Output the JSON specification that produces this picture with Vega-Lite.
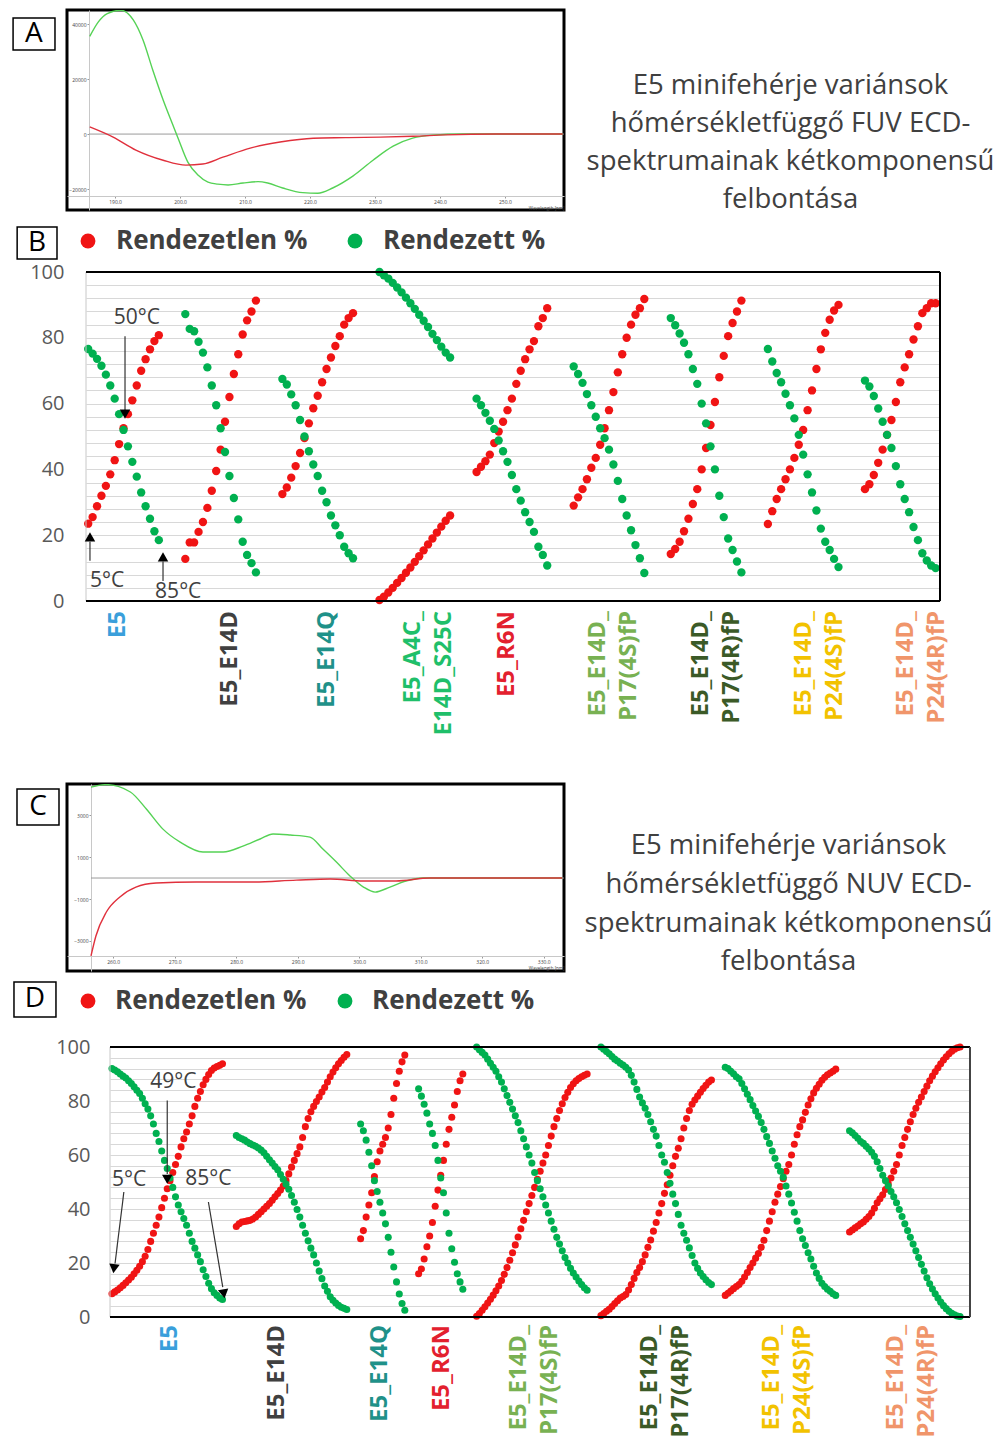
{
"$schema":"https://vega.github.io/schema/vega-lite/v6.json",
"background":"white",
"padding":{"left":9,"top":8,"right":0,"bottom":0},
"config":{"font":"Open Sans","view":{"stroke":null},"axis":{"labelFont":"Open Sans","titleFont":"Open Sans"},"legend":{"labelFont":"Open Sans"}},
"columns":1,
"align":"none",
"spacing":0,
"datasets":{
"sa":[{"nm":186.1,"v":35.5,"c":"g"},{"nm":187.4,"v":40.7,"c":"g"},{"nm":188.8,"v":43.8,"c":"g"},{"nm":190.9,"v":45,"c":"g"},{"nm":192.8,"v":41.5,"c":"g"},{"nm":194.3,"v":34.2,"c":"g"},{"nm":195.8,"v":23.3,"c":"g"},{"nm":197.4,"v":12.4,"c":"g"},{"nm":198.9,"v":3.3,"c":"g"},{"nm":199.7,"v":-1.5,"c":"g"},{"nm":201.2,"v":-10.2,"c":"g"},{"nm":202.8,"v":-15,"c":"g"},{"nm":204.3,"v":-17.5,"c":"g"},{"nm":205.8,"v":-18.2,"c":"g"},{"nm":207.4,"v":-18.5,"c":"g"},{"nm":209.7,"v":-17.8,"c":"g"},{"nm":212,"v":-17.3,"c":"g"},{"nm":213.5,"v":-17.8,"c":"g"},{"nm":215.8,"v":-19.6,"c":"g"},{"nm":218.9,"v":-21.3,"c":"g"},{"nm":221.2,"v":-21.5,"c":"g"},{"nm":223.5,"v":-19.6,"c":"g"},{"nm":226.6,"v":-15.3,"c":"g"},{"nm":229.7,"v":-9.5,"c":"g"},{"nm":232.8,"v":-4.4,"c":"g"},{"nm":235.8,"v":-1.5,"c":"g"},{"nm":238.9,"v":-0.4,"c":"g"},{"nm":243.5,"v":0,"c":"g"},{"nm":249.7,"v":0,"c":"g"},{"nm":258.9,"v":0,"c":"g"},
{"nm":186.1,"v":2.6,"c":"r"},{"nm":189.7,"v":-1.1,"c":"r"},{"nm":193.2,"v":-5.8,"c":"r"},{"nm":197.4,"v":-9.5,"c":"r"},{"nm":200.9,"v":-11.3,"c":"r"},{"nm":203.5,"v":-10.9,"c":"r"},{"nm":206.6,"v":-8.4,"c":"r"},{"nm":210.8,"v":-5.1,"c":"r"},{"nm":215.4,"v":-2.9,"c":"r"},{"nm":220.5,"v":-1.5,"c":"r"},{"nm":225.5,"v":-1.3,"c":"r"},{"nm":230.8,"v":-1.1,"c":"r"},{"nm":235.8,"v":-0.8,"c":"r"},{"nm":240.9,"v":-0.3,"c":"r"},{"nm":248.6,"v":0,"c":"r"},{"nm":258.9,"v":0,"c":"r"}],
"sc":[{"nm":256.4,"v":4.33,"c":"g"},{"nm":258.9,"v":4.45,"c":"g"},{"nm":262.8,"v":4.1,"c":"g"},{"nm":265.4,"v":3.29,"c":"g"},{"nm":268.1,"v":2.33,"c":"g"},{"nm":270.9,"v":1.71,"c":"g"},{"nm":274.6,"v":1.24,"c":"g"},{"nm":277.9,"v":1.24,"c":"g"},{"nm":281.1,"v":1.52,"c":"g"},{"nm":283.9,"v":1.86,"c":"g"},{"nm":286,"v":2.1,"c":"g"},{"nm":288.8,"v":2.05,"c":"g"},{"nm":292,"v":1.95,"c":"g"},{"nm":294.1,"v":1.38,"c":"g"},{"nm":296.3,"v":0.76,"c":"g"},{"nm":298.5,"v":0.1,"c":"g"},{"nm":300.7,"v":-0.43,"c":"g"},{"nm":302.6,"v":-0.67,"c":"g"},{"nm":305,"v":-0.43,"c":"g"},{"nm":307.6,"v":-0.14,"c":"g"},{"nm":310.4,"v":0,"c":"g"},{"nm":316.9,"v":0,"c":"g"},{"nm":333,"v":0,"c":"g"},
{"nm":256.4,"v":-3.71,"c":"r"},{"nm":257.2,"v":-2.76,"c":"r"},{"nm":258.9,"v":-1.62,"c":"r"},{"nm":261.1,"v":-0.9,"c":"r"},{"nm":263.7,"v":-0.43,"c":"r"},{"nm":267,"v":-0.24,"c":"r"},{"nm":273.5,"v":-0.19,"c":"r"},{"nm":282.3,"v":-0.19,"c":"r"},{"nm":289.8,"v":-0.1,"c":"r"},{"nm":295.3,"v":-0.05,"c":"r"},{"nm":300.7,"v":-0.14,"c":"r"},{"nm":306,"v":-0.14,"c":"r"},{"nm":311.5,"v":0,"c":"r"},{"nm":322.3,"v":0,"c":"r"},{"nm":333,"v":0,"c":"r"}],
"ta":[{"n":1,"t":"E5 minifehérje variánsok"},{"n":2,"t":"hőmérsékletfüggő FUV ECD-"},{"n":3,"t":"spektrumainak kétkomponensű"},{"n":4,"t":"felbontása"}],
"tc":[{"n":1,"t":"E5 minifehérje variánsok"},{"n":2,"t":"hőmérsékletfüggő NUV ECD-"},{"n":3,"t":"spektrumainak kétkomponensű"},{"n":4,"t":"felbontása"}],
"bLab":[{"x":6.75,"t":"E5","k":"E5"},{"x":32.1,"t":"E5_E14D","k":"E5_E14D"},{"x":54.1,"t":"E5_E14Q","k":"E5_E14Q"},{"x":73.7,"t":"E5_A4C_\u00a0\u00a0\u00a0\u00a0\u00a0|E14D_S25C","k":"E5_A4C_E14D_S25C"},{"x":94.9,"t":"E5_R6N","k":"E5_R6N"},{"x":115.4,"t":"E5_E14D_|P17(4S)fP","k":"P17(4S)"},{"x":138.8,"t":"E5_E14D_|P17(4R)fP","k":"P17(4R)"},{"x":162.2,"t":"E5_E14D_|P24(4S)fP","k":"P24(4S)"},{"x":185.3,"t":"E5_E14D_|P24(4R)fP","k":"P24(4R)"}],
"dLab":[{"x":21,"t":"E5","k":"E5"},{"x":59.7,"t":"E5_E14D","k":"E5_E14D"},{"x":97,"t":"E5_E14Q","k":"E5_E14Q"},{"x":119.5,"t":"E5_R6N","k":"E5_R6N"},{"x":147.4,"t":"E5_E14D_|P17(4S)fP","k":"P17(4S)"},{"x":194.8,"t":"E5_E14D_|P17(4R)fP","k":"P17(4R)"},{"x":239,"t":"E5_E14D_|P24(4S)fP","k":"P24(4S)"},{"x":283.9,"t":"E5_E14D_|P24(4R)fP","k":"P24(4R)"}],
"bArrows":[{"x":8.34,"y":80.5,"x2":8.34,"y2":58},{"x":0.4,"y":12.2,"x2":0.4,"y2":18},{"x":16.95,"y":6.1,"x2":16.95,"y2":12}],
"bHeads":[{"x":8.34,"y":56.8,"a":0},{"x":0.4,"y":19.5,"a":180},{"x":16.95,"y":13.4,"a":180}],
"bText":[{"x":11.04,"y":86,"t":"50°C"},{"x":4.26,"y":6.1,"t":"5°C"},{"x":20.4,"y":2.7,"t":"85°C"}],
"dArrows":[{"x":20,"y":80.2,"x2":20,"y2":53},{"x":4.3,"y":46.3,"x2":1.1,"y2":19.8},{"x":34.9,"y":42.6,"x2":40.1,"y2":11.1}],
"dHeads":[{"x":20,"y":51,"a":0},{"x":0.7,"y":17.9,"a":7.2},{"x":40.5,"y":8.6,"a":350.4}],
"dText":[{"x":22.2,"y":87,"t":"49°C"},{"x":6.2,"y":50.9,"t":"5°C"},{"x":34.9,"y":51.2,"t":"85°C"}],
"b":[
{"x":0,"s":"r","v":23.5},{"x":1,"s":"r","v":25.5},{"x":2,"s":"r","v":28.8},{"x":3,"s":"r","v":32},{"x":4,"s":"r","v":35},{"x":5,"s":"r","v":38.5},{"x":6,"s":"r","v":42.8},{"x":7,"s":"r","v":47.7},{"x":8,"s":"r","v":52.5},{"x":9,"s":"r","v":56.8},{"x":10,"s":"r","v":61},{"x":11,"s":"r","v":65.5},{"x":12,"s":"r","v":70},{"x":13,"s":"r","v":73.5},{"x":14,"s":"r","v":76.5},{"x":15,"s":"r","v":79},{"x":16,"s":"r","v":80.8},
{"x":0,"s":"g","v":76.6},{"x":1,"s":"g","v":75.2},{"x":2,"s":"g","v":73.6},{"x":3,"s":"g","v":71.5},{"x":4,"s":"g","v":68.8},{"x":5,"s":"g","v":65.5},{"x":6,"s":"g","v":61.5},{"x":7,"s":"g","v":56.8},{"x":8,"s":"g","v":52},{"x":9,"s":"g","v":47},{"x":10,"s":"g","v":42.3},{"x":11,"s":"g","v":37.8},{"x":12,"s":"g","v":33},{"x":13,"s":"g","v":28.8},{"x":14,"s":"g","v":25},{"x":15,"s":"g","v":21.2},{"x":16,"s":"g","v":18.5},
{"x":22,"s":"r","v":12.8},{"x":23,"s":"r","v":17.8},{"x":24,"s":"r","v":17.8},{"x":25,"s":"r","v":21},{"x":26,"s":"r","v":24},{"x":27,"s":"r","v":28.3},{"x":28,"s":"r","v":33.5},{"x":29,"s":"r","v":39.5},{"x":30,"s":"r","v":46},{"x":31,"s":"r","v":54.5},{"x":32,"s":"r","v":62},{"x":33,"s":"r","v":69},{"x":34,"s":"r","v":75},{"x":35,"s":"r","v":81},{"x":36,"s":"r","v":85.3},{"x":37,"s":"r","v":88},{"x":38,"s":"r","v":91.3},
{"x":22,"s":"g","v":87.2},{"x":23,"s":"g","v":82.7},{"x":24,"s":"g","v":82},{"x":25,"s":"g","v":78.8},{"x":26,"s":"g","v":75.5},{"x":27,"s":"g","v":71},{"x":28,"s":"g","v":65.5},{"x":29,"s":"g","v":59.5},{"x":30,"s":"g","v":52.5},{"x":31,"s":"g","v":45.3},{"x":32,"s":"g","v":38},{"x":33,"s":"g","v":31.3},{"x":34,"s":"g","v":24.8},{"x":35,"s":"g","v":18},{"x":36,"s":"g","v":14},{"x":37,"s":"g","v":11.5},{"x":38,"s":"g","v":8.7},
{"x":44,"s":"r","v":32.5},{"x":45,"s":"r","v":34.5},{"x":46,"s":"r","v":37.5},{"x":47,"s":"r","v":41},{"x":48,"s":"r","v":45},{"x":49,"s":"r","v":49.5},{"x":50,"s":"r","v":54},{"x":51,"s":"r","v":58.6},{"x":52,"s":"r","v":62.4},{"x":53,"s":"r","v":66.5},{"x":54,"s":"r","v":70.5},{"x":55,"s":"r","v":74},{"x":56,"s":"r","v":77.5},{"x":57,"s":"r","v":80.5},{"x":58,"s":"r","v":84},{"x":59,"s":"r","v":86},{"x":60,"s":"r","v":87.5},
{"x":44,"s":"g","v":67.5},{"x":45,"s":"g","v":65.8},{"x":46,"s":"g","v":62.8},{"x":47,"s":"g","v":59.5},{"x":48,"s":"g","v":55},{"x":49,"s":"g","v":50},{"x":50,"s":"g","v":45.5},{"x":51,"s":"g","v":41.5},{"x":52,"s":"g","v":38},{"x":53,"s":"g","v":33.5},{"x":54,"s":"g","v":30},{"x":55,"s":"g","v":26},{"x":56,"s":"g","v":23},{"x":57,"s":"g","v":20},{"x":58,"s":"g","v":16.5},{"x":59,"s":"g","v":14.5},{"x":60,"s":"g","v":13},
{"x":66,"s":"r","v":0.3},{"x":67,"s":"r","v":1.3},{"x":68,"s":"r","v":2.6},{"x":69,"s":"r","v":4},{"x":70,"s":"r","v":5.5},{"x":71,"s":"r","v":7},{"x":72,"s":"r","v":8.6},{"x":73,"s":"r","v":10.2},{"x":74,"s":"r","v":11.9},{"x":75,"s":"r","v":13.6},{"x":76,"s":"r","v":15.4},{"x":77,"s":"r","v":17.2},{"x":78,"s":"r","v":19},{"x":79,"s":"r","v":20.8},{"x":80,"s":"r","v":22.6},{"x":81,"s":"r","v":24.4},{"x":82,"s":"r","v":26},
{"x":66,"s":"g","v":100},{"x":67,"s":"g","v":99},{"x":68,"s":"g","v":98},{"x":69,"s":"g","v":96.7},{"x":70,"s":"g","v":95.3},{"x":71,"s":"g","v":93.8},{"x":72,"s":"g","v":92.2},{"x":73,"s":"g","v":90.5},{"x":74,"s":"g","v":88.8},{"x":75,"s":"g","v":87},{"x":76,"s":"g","v":85.2},{"x":77,"s":"g","v":83.3},{"x":78,"s":"g","v":81.2},{"x":79,"s":"g","v":79.3},{"x":80,"s":"g","v":77.3},{"x":81,"s":"g","v":75.5},{"x":82,"s":"g","v":74},
{"x":88,"s":"r","v":39.2},{"x":89,"s":"r","v":40.8},{"x":90,"s":"r","v":42.5},{"x":91,"s":"r","v":44.5},{"x":92,"s":"r","v":48},{"x":93,"s":"r","v":51.5},{"x":94,"s":"r","v":54.5},{"x":95,"s":"r","v":58},{"x":96,"s":"r","v":61.5},{"x":97,"s":"r","v":66},{"x":98,"s":"r","v":70},{"x":99,"s":"r","v":73.5},{"x":100,"s":"r","v":76.5},{"x":101,"s":"r","v":79},{"x":102,"s":"r","v":83.5},{"x":103,"s":"r","v":86},{"x":104,"s":"r","v":89},
{"x":88,"s":"g","v":61.5},{"x":89,"s":"g","v":59.5},{"x":90,"s":"g","v":57.2},{"x":91,"s":"g","v":54.8},{"x":92,"s":"g","v":52.3},{"x":93,"s":"g","v":48.8},{"x":94,"s":"g","v":45.5},{"x":95,"s":"g","v":42.3},{"x":96,"s":"g","v":38.3},{"x":97,"s":"g","v":34},{"x":98,"s":"g","v":30.5},{"x":99,"s":"g","v":27},{"x":100,"s":"g","v":24},{"x":101,"s":"g","v":21},{"x":102,"s":"g","v":16.5},{"x":103,"s":"g","v":14},{"x":104,"s":"g","v":10.8},
{"x":110,"s":"r","v":29},{"x":111,"s":"r","v":31.5},{"x":112,"s":"r","v":34},{"x":113,"s":"r","v":37},{"x":114,"s":"r","v":40.5},{"x":115,"s":"r","v":43.5},{"x":116,"s":"r","v":47.5},{"x":117,"s":"r","v":52.5},{"x":118,"s":"r","v":58},{"x":119,"s":"r","v":63.5},{"x":120,"s":"r","v":69.5},{"x":121,"s":"r","v":75},{"x":122,"s":"r","v":80},{"x":123,"s":"r","v":84},{"x":124,"s":"r","v":87},{"x":125,"s":"r","v":89},{"x":126,"s":"r","v":91.8},
{"x":110,"s":"g","v":71.3},{"x":111,"s":"g","v":69},{"x":112,"s":"g","v":66.3},{"x":113,"s":"g","v":62.9},{"x":114,"s":"g","v":59.5},{"x":115,"s":"g","v":56},{"x":116,"s":"g","v":52.5},{"x":117,"s":"g","v":49.5},{"x":118,"s":"g","v":46},{"x":119,"s":"g","v":41.5},{"x":120,"s":"g","v":36.5},{"x":121,"s":"g","v":31},{"x":122,"s":"g","v":26},{"x":123,"s":"g","v":21.5},{"x":124,"s":"g","v":17},{"x":125,"s":"g","v":13},{"x":126,"s":"g","v":8.5},
{"x":132,"s":"r","v":14.3},{"x":133,"s":"r","v":15.8},{"x":134,"s":"r","v":18},{"x":135,"s":"r","v":21.2},{"x":136,"s":"r","v":25},{"x":137,"s":"r","v":29.5},{"x":138,"s":"r","v":34},{"x":139,"s":"r","v":40},{"x":140,"s":"r","v":46.5},{"x":141,"s":"r","v":53.5},{"x":142,"s":"r","v":60.5},{"x":143,"s":"r","v":68},{"x":144,"s":"r","v":74.5},{"x":145,"s":"r","v":80.5},{"x":146,"s":"r","v":84.5},{"x":147,"s":"r","v":88},{"x":148,"s":"r","v":91.3},
{"x":132,"s":"g","v":86},{"x":133,"s":"g","v":83.8},{"x":134,"s":"g","v":81.3},{"x":135,"s":"g","v":78.5},{"x":136,"s":"g","v":75},{"x":137,"s":"g","v":70.5},{"x":138,"s":"g","v":66},{"x":139,"s":"g","v":60},{"x":140,"s":"g","v":54},{"x":141,"s":"g","v":47},{"x":142,"s":"g","v":40},{"x":143,"s":"g","v":32},{"x":144,"s":"g","v":25.5},{"x":145,"s":"g","v":19},{"x":146,"s":"g","v":15.5},{"x":147,"s":"g","v":12},{"x":148,"s":"g","v":8.7},
{"x":154,"s":"r","v":23.4},{"x":155,"s":"r","v":27.3},{"x":156,"s":"r","v":31},{"x":157,"s":"r","v":34},{"x":158,"s":"r","v":37},{"x":159,"s":"r","v":40},{"x":160,"s":"r","v":43.5},{"x":161,"s":"r","v":47.5},{"x":162,"s":"r","v":52},{"x":163,"s":"r","v":58},{"x":164,"s":"r","v":64},{"x":165,"s":"r","v":70.5},{"x":166,"s":"r","v":76.5},{"x":167,"s":"r","v":81.5},{"x":168,"s":"r","v":85.5},{"x":169,"s":"r","v":88.3},{"x":170,"s":"r","v":90},
{"x":154,"s":"g","v":76.6},{"x":155,"s":"g","v":72.8},{"x":156,"s":"g","v":69.3},{"x":157,"s":"g","v":66.5},{"x":158,"s":"g","v":63},{"x":159,"s":"g","v":59.5},{"x":160,"s":"g","v":55.5},{"x":161,"s":"g","v":50.5},{"x":162,"s":"g","v":44.5},{"x":163,"s":"g","v":38.5},{"x":164,"s":"g","v":33},{"x":165,"s":"g","v":27.5},{"x":166,"s":"g","v":22},{"x":167,"s":"g","v":18},{"x":168,"s":"g","v":15.5},{"x":169,"s":"g","v":12.8},{"x":170,"s":"g","v":10.3},
{"x":176,"s":"r","v":34},{"x":177,"s":"r","v":35.5},{"x":178,"s":"r","v":38.3},{"x":179,"s":"r","v":42},{"x":180,"s":"r","v":46},{"x":181,"s":"r","v":50.5},{"x":182,"s":"r","v":55},{"x":183,"s":"r","v":60.5},{"x":184,"s":"r","v":66.5},{"x":185,"s":"r","v":71},{"x":186,"s":"r","v":75},{"x":187,"s":"r","v":79.5},{"x":188,"s":"r","v":83.5},{"x":189,"s":"r","v":87.5},{"x":190,"s":"r","v":89},{"x":191,"s":"r","v":90.5},{"x":192,"s":"r","v":90.5},
{"x":176,"s":"g","v":67},{"x":177,"s":"g","v":65.2},{"x":178,"s":"g","v":62.3},{"x":179,"s":"g","v":58.5},{"x":180,"s":"g","v":54.5},{"x":181,"s":"g","v":50.5},{"x":182,"s":"g","v":46.5},{"x":183,"s":"g","v":41},{"x":184,"s":"g","v":35.5},{"x":185,"s":"g","v":31},{"x":186,"s":"g","v":27},{"x":187,"s":"g","v":22.5},{"x":188,"s":"g","v":18.5},{"x":189,"s":"g","v":14.5},{"x":190,"s":"g","v":12.3},{"x":191,"s":"g","v":10.8},{"x":192,"s":"g","v":10}
],
"d":[
{"x":0,"s":"r","v":8.6},{"x":1,"s":"r","v":9.3},{"x":2,"s":"r","v":10},{"x":3,"s":"r","v":10.8},{"x":4,"s":"r","v":11.7},{"x":5,"s":"r","v":12.7},{"x":6,"s":"r","v":13.7},{"x":7,"s":"r","v":14.7},{"x":8,"s":"r","v":16},{"x":9,"s":"r","v":17.3},{"x":10,"s":"r","v":18.8},{"x":11,"s":"r","v":20.5},{"x":12,"s":"r","v":22.5},{"x":13,"s":"r","v":25},{"x":14,"s":"r","v":28},{"x":15,"s":"r","v":31},{"x":16,"s":"r","v":34},{"x":17,"s":"r","v":37},{"x":18,"s":"r","v":40.5},{"x":19,"s":"r","v":44},{"x":20,"s":"r","v":47.5},{"x":21,"s":"r","v":50.5},{"x":22,"s":"r","v":53.5},{"x":23,"s":"r","v":56.5},{"x":24,"s":"r","v":59.5},{"x":25,"s":"r","v":63},{"x":26,"s":"r","v":66},{"x":27,"s":"r","v":68.5},{"x":28,"s":"r","v":71.5},{"x":29,"s":"r","v":74.5},{"x":30,"s":"r","v":78},{"x":31,"s":"r","v":81},{"x":32,"s":"r","v":83.5},{"x":33,"s":"r","v":86},{"x":34,"s":"r","v":88},{"x":35,"s":"r","v":89.8},{"x":36,"s":"r","v":91.3},{"x":37,"s":"r","v":92.2},{"x":38,"s":"r","v":92.8},{"x":39,"s":"r","v":93.2},{"x":40,"s":"r","v":93.8},
{"x":0,"s":"g","v":92},{"x":1,"s":"g","v":91.5},{"x":2,"s":"g","v":90.8},{"x":3,"s":"g","v":90},{"x":4,"s":"g","v":89.2},{"x":5,"s":"g","v":88.5},{"x":6,"s":"g","v":87.5},{"x":7,"s":"g","v":86.5},{"x":8,"s":"g","v":85.3},{"x":9,"s":"g","v":84},{"x":10,"s":"g","v":82.8},{"x":11,"s":"g","v":81},{"x":12,"s":"g","v":79},{"x":13,"s":"g","v":77},{"x":14,"s":"g","v":74.5},{"x":15,"s":"g","v":71.5},{"x":16,"s":"g","v":68},{"x":17,"s":"g","v":65},{"x":18,"s":"g","v":61.5},{"x":19,"s":"g","v":58},{"x":20,"s":"g","v":55},{"x":21,"s":"g","v":51.5},{"x":22,"s":"g","v":48},{"x":23,"s":"g","v":44.5},{"x":24,"s":"g","v":41.5},{"x":25,"s":"g","v":39},{"x":26,"s":"g","v":36.5},{"x":27,"s":"g","v":34},{"x":28,"s":"g","v":31},{"x":29,"s":"g","v":28},{"x":30,"s":"g","v":25.5},{"x":31,"s":"g","v":23},{"x":32,"s":"g","v":20.5},{"x":33,"s":"g","v":17.5},{"x":34,"s":"g","v":15},{"x":35,"s":"g","v":12.5},{"x":36,"s":"g","v":10.5},{"x":37,"s":"g","v":9},{"x":38,"s":"g","v":8},{"x":39,"s":"g","v":7},{"x":40,"s":"g","v":6.5},
{"x":45,"s":"r","v":33.5},{"x":46,"s":"r","v":34.5},{"x":47,"s":"r","v":35.2},{"x":48,"s":"r","v":35.4},{"x":49,"s":"r","v":35.6},{"x":50,"s":"r","v":35.8},{"x":51,"s":"r","v":36.3},{"x":52,"s":"r","v":37},{"x":53,"s":"r","v":38},{"x":54,"s":"r","v":39},{"x":55,"s":"r","v":40},{"x":56,"s":"r","v":41},{"x":57,"s":"r","v":42},{"x":58,"s":"r","v":43.2},{"x":59,"s":"r","v":44.5},{"x":60,"s":"r","v":45.7},{"x":61,"s":"r","v":47},{"x":62,"s":"r","v":48.5},{"x":63,"s":"r","v":50.5},{"x":64,"s":"r","v":53},{"x":65,"s":"r","v":55.5},{"x":66,"s":"r","v":58},{"x":67,"s":"r","v":60.5},{"x":68,"s":"r","v":63},{"x":69,"s":"r","v":66.5},{"x":70,"s":"r","v":70.5},{"x":71,"s":"r","v":73.5},{"x":72,"s":"r","v":76},{"x":73,"s":"r","v":78},{"x":74,"s":"r","v":79.8},{"x":75,"s":"r","v":81.5},{"x":76,"s":"r","v":83.3},{"x":77,"s":"r","v":85},{"x":78,"s":"r","v":87},{"x":79,"s":"r","v":89},{"x":80,"s":"r","v":90.7},{"x":81,"s":"r","v":92.3},{"x":82,"s":"r","v":93.8},{"x":83,"s":"r","v":95},{"x":84,"s":"r","v":96.2},{"x":85,"s":"r","v":97.2},
{"x":45,"s":"g","v":67.2},{"x":46,"s":"g","v":66.5},{"x":47,"s":"g","v":66},{"x":48,"s":"g","v":65.5},{"x":49,"s":"g","v":64.8},{"x":50,"s":"g","v":64.2},{"x":51,"s":"g","v":63.7},{"x":52,"s":"g","v":63.2},{"x":53,"s":"g","v":62.6},{"x":54,"s":"g","v":61.8},{"x":55,"s":"g","v":60.8},{"x":56,"s":"g","v":59.5},{"x":57,"s":"g","v":58.2},{"x":58,"s":"g","v":57},{"x":59,"s":"g","v":55.7},{"x":60,"s":"g","v":54.5},{"x":61,"s":"g","v":52.8},{"x":62,"s":"g","v":51},{"x":63,"s":"g","v":49.2},{"x":64,"s":"g","v":47.3},{"x":65,"s":"g","v":45},{"x":66,"s":"g","v":42.5},{"x":67,"s":"g","v":39.8},{"x":68,"s":"g","v":37},{"x":69,"s":"g","v":34},{"x":70,"s":"g","v":31},{"x":71,"s":"g","v":28.2},{"x":72,"s":"g","v":25.5},{"x":73,"s":"g","v":23},{"x":74,"s":"g","v":20},{"x":75,"s":"g","v":17},{"x":76,"s":"g","v":14.2},{"x":77,"s":"g","v":11.5},{"x":78,"s":"g","v":9.5},{"x":79,"s":"g","v":7.5},{"x":80,"s":"g","v":6.2},{"x":81,"s":"g","v":5.2},{"x":82,"s":"g","v":4.3},{"x":83,"s":"g","v":3.6},{"x":84,"s":"g","v":3.2},{"x":85,"s":"g","v":2.8},
{"x":90,"s":"r","v":29},{"x":91,"s":"r","v":32},{"x":92,"s":"r","v":37},{"x":93,"s":"r","v":41.5},{"x":94,"s":"r","v":46},{"x":95,"s":"r","v":52},{"x":96,"s":"r","v":57.5},{"x":97,"s":"r","v":61.5},{"x":98,"s":"r","v":64},{"x":99,"s":"r","v":66.5},{"x":100,"s":"r","v":70},{"x":101,"s":"r","v":75},{"x":102,"s":"r","v":81},{"x":103,"s":"r","v":86.5},{"x":104,"s":"r","v":91},{"x":105,"s":"r","v":94.5},{"x":106,"s":"r","v":97},
{"x":90,"s":"g","v":71.5},{"x":91,"s":"g","v":69},{"x":92,"s":"g","v":65.5},{"x":93,"s":"g","v":61},{"x":94,"s":"g","v":56},{"x":95,"s":"g","v":50.5},{"x":96,"s":"g","v":46.5},{"x":97,"s":"g","v":42.5},{"x":98,"s":"g","v":38.5},{"x":99,"s":"g","v":34.5},{"x":100,"s":"g","v":29.5},{"x":101,"s":"g","v":24},{"x":102,"s":"g","v":18.5},{"x":103,"s":"g","v":13},{"x":104,"s":"g","v":8.5},{"x":105,"s":"g","v":5},{"x":106,"s":"g","v":2.5},
{"x":111,"s":"r","v":16},{"x":112,"s":"r","v":17.8},{"x":113,"s":"r","v":21.5},{"x":114,"s":"r","v":26},{"x":115,"s":"r","v":30},{"x":116,"s":"r","v":35},{"x":117,"s":"r","v":41},{"x":118,"s":"r","v":47},{"x":119,"s":"r","v":52.5},{"x":120,"s":"r","v":58},{"x":121,"s":"r","v":64},{"x":122,"s":"r","v":69.5},{"x":123,"s":"r","v":74},{"x":124,"s":"r","v":78.5},{"x":125,"s":"r","v":83.5},{"x":126,"s":"r","v":87.5},{"x":127,"s":"r","v":90},
{"x":111,"s":"g","v":84.5},{"x":112,"s":"g","v":81.8},{"x":113,"s":"g","v":78.8},{"x":114,"s":"g","v":75.5},{"x":115,"s":"g","v":71.5},{"x":116,"s":"g","v":68},{"x":117,"s":"g","v":63.5},{"x":118,"s":"g","v":58},{"x":119,"s":"g","v":51.5},{"x":120,"s":"g","v":46},{"x":121,"s":"g","v":38.5},{"x":122,"s":"g","v":31},{"x":123,"s":"g","v":25.3},{"x":124,"s":"g","v":20.3},{"x":125,"s":"g","v":16},{"x":126,"s":"g","v":13},{"x":127,"s":"g","v":10.3},
{"x":132,"s":"r","v":0.3},{"x":133,"s":"r","v":1.3},{"x":134,"s":"r","v":2.5},{"x":135,"s":"r","v":3.8},{"x":136,"s":"r","v":5.2},{"x":137,"s":"r","v":6.6},{"x":138,"s":"r","v":8.1},{"x":139,"s":"r","v":9.7},{"x":140,"s":"r","v":11.5},{"x":141,"s":"r","v":13.5},{"x":142,"s":"r","v":15.8},{"x":143,"s":"r","v":18.3},{"x":144,"s":"r","v":21},{"x":145,"s":"r","v":23.8},{"x":146,"s":"r","v":26.7},{"x":147,"s":"r","v":29.6},{"x":148,"s":"r","v":32.7},{"x":149,"s":"r","v":35.8},{"x":150,"s":"r","v":39},{"x":151,"s":"r","v":42},{"x":152,"s":"r","v":45},{"x":153,"s":"r","v":48},{"x":154,"s":"r","v":51},{"x":155,"s":"r","v":54},{"x":156,"s":"r","v":57},{"x":157,"s":"r","v":60},{"x":158,"s":"r","v":63.5},{"x":159,"s":"r","v":67},{"x":160,"s":"r","v":70.5},{"x":161,"s":"r","v":73.5},{"x":162,"s":"r","v":76.5},{"x":163,"s":"r","v":79},{"x":164,"s":"r","v":81.3},{"x":165,"s":"r","v":83.2},{"x":166,"s":"r","v":85},{"x":167,"s":"r","v":86.4},{"x":168,"s":"r","v":87.5},{"x":169,"s":"r","v":88.3},{"x":170,"s":"r","v":89},{"x":171,"s":"r","v":89.5},{"x":172,"s":"r","v":90},
{"x":132,"s":"g","v":100},{"x":133,"s":"g","v":99},{"x":134,"s":"g","v":98},{"x":135,"s":"g","v":97},{"x":136,"s":"g","v":95.5},{"x":137,"s":"g","v":94},{"x":138,"s":"g","v":92.5},{"x":139,"s":"g","v":91},{"x":140,"s":"g","v":89},{"x":141,"s":"g","v":87},{"x":142,"s":"g","v":84.5},{"x":143,"s":"g","v":82},{"x":144,"s":"g","v":79.5},{"x":145,"s":"g","v":77},{"x":146,"s":"g","v":74.5},{"x":147,"s":"g","v":72},{"x":148,"s":"g","v":69},{"x":149,"s":"g","v":66},{"x":150,"s":"g","v":63},{"x":151,"s":"g","v":60},{"x":152,"s":"g","v":57},{"x":153,"s":"g","v":53.5},{"x":154,"s":"g","v":50.5},{"x":155,"s":"g","v":47.5},{"x":156,"s":"g","v":44.5},{"x":157,"s":"g","v":41.5},{"x":158,"s":"g","v":38.5},{"x":159,"s":"g","v":35.5},{"x":160,"s":"g","v":32.5},{"x":161,"s":"g","v":29.5},{"x":162,"s":"g","v":27},{"x":163,"s":"g","v":24.5},{"x":164,"s":"g","v":22},{"x":165,"s":"g","v":20},{"x":166,"s":"g","v":18},{"x":167,"s":"g","v":16.3},{"x":168,"s":"g","v":14.8},{"x":169,"s":"g","v":13.3},{"x":170,"s":"g","v":12},{"x":171,"s":"g","v":10.8},{"x":172,"s":"g","v":9.9},
{"x":177,"s":"r","v":0.5},{"x":178,"s":"r","v":1.3},{"x":179,"s":"r","v":2.1},{"x":180,"s":"r","v":2.9},{"x":181,"s":"r","v":3.9},{"x":182,"s":"r","v":5},{"x":183,"s":"r","v":6},{"x":184,"s":"r","v":7},{"x":185,"s":"r","v":7.6},{"x":186,"s":"r","v":8.3},{"x":187,"s":"r","v":10},{"x":188,"s":"r","v":12},{"x":189,"s":"r","v":14.3},{"x":190,"s":"r","v":16.5},{"x":191,"s":"r","v":18.3},{"x":192,"s":"r","v":20.5},{"x":193,"s":"r","v":23},{"x":194,"s":"r","v":25.8},{"x":195,"s":"r","v":28.5},{"x":196,"s":"r","v":31.8},{"x":197,"s":"r","v":35},{"x":198,"s":"r","v":38.5},{"x":199,"s":"r","v":42},{"x":200,"s":"r","v":45.8},{"x":201,"s":"r","v":49},{"x":202,"s":"r","v":52.5},{"x":203,"s":"r","v":56},{"x":204,"s":"r","v":59.5},{"x":205,"s":"r","v":62.5},{"x":206,"s":"r","v":66},{"x":207,"s":"r","v":70},{"x":208,"s":"r","v":73.5},{"x":209,"s":"r","v":76.5},{"x":210,"s":"r","v":78.8},{"x":211,"s":"r","v":80.4},{"x":212,"s":"r","v":81.8},{"x":213,"s":"r","v":83.2},{"x":214,"s":"r","v":84.6},{"x":215,"s":"r","v":85.8},{"x":216,"s":"r","v":87},{"x":217,"s":"r","v":87.8},
{"x":177,"s":"g","v":100},{"x":178,"s":"g","v":99.2},{"x":179,"s":"g","v":98.3},{"x":180,"s":"g","v":97.5},{"x":181,"s":"g","v":96.5},{"x":182,"s":"g","v":95.5},{"x":183,"s":"g","v":94.8},{"x":184,"s":"g","v":94},{"x":185,"s":"g","v":93.3},{"x":186,"s":"g","v":92.5},{"x":187,"s":"g","v":91.5},{"x":188,"s":"g","v":89.5},{"x":189,"s":"g","v":87},{"x":190,"s":"g","v":84.3},{"x":191,"s":"g","v":81.5},{"x":192,"s":"g","v":79.3},{"x":193,"s":"g","v":77.3},{"x":194,"s":"g","v":75},{"x":195,"s":"g","v":72.3},{"x":196,"s":"g","v":69.5},{"x":197,"s":"g","v":67},{"x":198,"s":"g","v":63.5},{"x":199,"s":"g","v":60},{"x":200,"s":"g","v":57.3},{"x":201,"s":"g","v":53.5},{"x":202,"s":"g","v":49.5},{"x":203,"s":"g","v":45.5},{"x":204,"s":"g","v":42},{"x":205,"s":"g","v":38},{"x":206,"s":"g","v":34},{"x":207,"s":"g","v":31},{"x":208,"s":"g","v":28.4},{"x":209,"s":"g","v":25.6},{"x":210,"s":"g","v":22.8},{"x":211,"s":"g","v":20},{"x":212,"s":"g","v":18},{"x":213,"s":"g","v":16.3},{"x":214,"s":"g","v":15},{"x":215,"s":"g","v":13.8},{"x":216,"s":"g","v":12.8},{"x":217,"s":"g","v":12},
{"x":222,"s":"r","v":8},{"x":223,"s":"r","v":8.8},{"x":224,"s":"r","v":9.6},{"x":225,"s":"r","v":10.5},{"x":226,"s":"r","v":11.3},{"x":227,"s":"r","v":12},{"x":228,"s":"r","v":13.2},{"x":229,"s":"r","v":14.8},{"x":230,"s":"r","v":16.5},{"x":231,"s":"r","v":18.3},{"x":232,"s":"r","v":20},{"x":233,"s":"r","v":21.8},{"x":234,"s":"r","v":23.5},{"x":235,"s":"r","v":25.8},{"x":236,"s":"r","v":28.4},{"x":237,"s":"r","v":32},{"x":238,"s":"r","v":35.5},{"x":239,"s":"r","v":39},{"x":240,"s":"r","v":42.5},{"x":241,"s":"r","v":45.5},{"x":242,"s":"r","v":48.3},{"x":243,"s":"r","v":51.2},{"x":244,"s":"r","v":54},{"x":245,"s":"r","v":56.5},{"x":246,"s":"r","v":60},{"x":247,"s":"r","v":64},{"x":248,"s":"r","v":67.5},{"x":249,"s":"r","v":70.5},{"x":250,"s":"r","v":73},{"x":251,"s":"r","v":75.8},{"x":252,"s":"r","v":78.5},{"x":253,"s":"r","v":80.8},{"x":254,"s":"r","v":83},{"x":255,"s":"r","v":84.7},{"x":256,"s":"r","v":86.2},{"x":257,"s":"r","v":87.7},{"x":258,"s":"r","v":88.8},{"x":259,"s":"r","v":89.7},{"x":260,"s":"r","v":90.4},{"x":261,"s":"r","v":91},{"x":262,"s":"r","v":91.8},
{"x":222,"s":"g","v":92.5},{"x":223,"s":"g","v":92},{"x":224,"s":"g","v":91},{"x":225,"s":"g","v":90.1},{"x":226,"s":"g","v":89},{"x":227,"s":"g","v":88.2},{"x":228,"s":"g","v":86.5},{"x":229,"s":"g","v":84.5},{"x":230,"s":"g","v":82.5},{"x":231,"s":"g","v":80.5},{"x":232,"s":"g","v":78.3},{"x":233,"s":"g","v":76.3},{"x":234,"s":"g","v":74.3},{"x":235,"s":"g","v":72},{"x":236,"s":"g","v":69.5},{"x":237,"s":"g","v":66.8},{"x":238,"s":"g","v":64.3},{"x":239,"s":"g","v":61.5},{"x":240,"s":"g","v":58.8},{"x":241,"s":"g","v":56},{"x":242,"s":"g","v":54},{"x":243,"s":"g","v":51.8},{"x":244,"s":"g","v":48.5},{"x":245,"s":"g","v":45.5},{"x":246,"s":"g","v":42.2},{"x":247,"s":"g","v":38.8},{"x":248,"s":"g","v":35.5},{"x":249,"s":"g","v":32},{"x":250,"s":"g","v":29},{"x":251,"s":"g","v":26.5},{"x":252,"s":"g","v":23.8},{"x":253,"s":"g","v":21.5},{"x":254,"s":"g","v":18.8},{"x":255,"s":"g","v":16.3},{"x":256,"s":"g","v":14.3},{"x":257,"s":"g","v":12.5},{"x":258,"s":"g","v":11.3},{"x":259,"s":"g","v":10.3},{"x":260,"s":"g","v":9.5},{"x":261,"s":"g","v":8.6},{"x":262,"s":"g","v":8},
{"x":267,"s":"r","v":31.5},{"x":268,"s":"r","v":32.2},{"x":269,"s":"r","v":33},{"x":270,"s":"r","v":33.7},{"x":271,"s":"r","v":34.5},{"x":272,"s":"r","v":35.2},{"x":273,"s":"r","v":36.2},{"x":274,"s":"r","v":37.2},{"x":275,"s":"r","v":38.5},{"x":276,"s":"r","v":40.3},{"x":277,"s":"r","v":42.3},{"x":278,"s":"r","v":43.8},{"x":279,"s":"r","v":45.3},{"x":280,"s":"r","v":47.2},{"x":281,"s":"r","v":49.3},{"x":282,"s":"r","v":51.5},{"x":283,"s":"r","v":54},{"x":284,"s":"r","v":56.5},{"x":285,"s":"r","v":60},{"x":286,"s":"r","v":63.5},{"x":287,"s":"r","v":66.5},{"x":288,"s":"r","v":69.5},{"x":289,"s":"r","v":72.3},{"x":290,"s":"r","v":75},{"x":291,"s":"r","v":77.3},{"x":292,"s":"r","v":79.5},{"x":293,"s":"r","v":81.5},{"x":294,"s":"r","v":83.5},{"x":295,"s":"r","v":85.5},{"x":296,"s":"r","v":87.5},{"x":297,"s":"r","v":89.2},{"x":298,"s":"r","v":90.8},{"x":299,"s":"r","v":92.3},{"x":300,"s":"r","v":93.8},{"x":301,"s":"r","v":95.2},{"x":302,"s":"r","v":96.4},{"x":303,"s":"r","v":97.5},{"x":304,"s":"r","v":98.4},{"x":305,"s":"r","v":99.2},{"x":306,"s":"r","v":99.7},{"x":307,"s":"r","v":100},
{"x":267,"s":"g","v":69},{"x":268,"s":"g","v":68.2},{"x":269,"s":"g","v":67.2},{"x":270,"s":"g","v":66.2},{"x":271,"s":"g","v":65},{"x":272,"s":"g","v":64.3},{"x":273,"s":"g","v":63.2},{"x":274,"s":"g","v":62.2},{"x":275,"s":"g","v":61},{"x":276,"s":"g","v":59.5},{"x":277,"s":"g","v":57.5},{"x":278,"s":"g","v":55},{"x":279,"s":"g","v":52.5},{"x":280,"s":"g","v":50.5},{"x":281,"s":"g","v":48.5},{"x":282,"s":"g","v":46.5},{"x":283,"s":"g","v":44.5},{"x":284,"s":"g","v":42.3},{"x":285,"s":"g","v":39.8},{"x":286,"s":"g","v":37.2},{"x":287,"s":"g","v":34.5},{"x":288,"s":"g","v":32},{"x":289,"s":"g","v":29.5},{"x":290,"s":"g","v":27},{"x":291,"s":"g","v":24.5},{"x":292,"s":"g","v":22},{"x":293,"s":"g","v":19.5},{"x":294,"s":"g","v":17},{"x":295,"s":"g","v":14.5},{"x":296,"s":"g","v":12.3},{"x":297,"s":"g","v":10.4},{"x":298,"s":"g","v":8.6},{"x":299,"s":"g","v":7},{"x":300,"s":"g","v":5.5},{"x":301,"s":"g","v":4.2},{"x":302,"s":"g","v":3.1},{"x":303,"s":"g","v":2.1},{"x":304,"s":"g","v":1.4},{"x":305,"s":"g","v":0.8},{"x":306,"s":"g","v":0.4},{"x":307,"s":"g","v":0.2}
]
},
"concat":[
{"hconcat":[
 {"width":1,"height":1,"data":{"values":[]},"mark":{"type":"point","opacity":0},"encoding":{}},
 {"hconcat":[
 {"width":497,"height":200,"view":{"stroke":"#000","strokeWidth":3},
  "layer":[
   {"data":{"values":[{}]},"mark":{"type":"rule","color":"#9a9a9a","strokeWidth":1},"encoding":{"x":{"datum":186,"type":"quantitative"},"x2":{"datum":259.1},"y":{"datum":0,"type":"quantitative"}}},
   {"data":{"name":"sa"},"mark":{"type":"line","interpolate":"monotone","strokeWidth":1.4,"clip":true},
    "encoding":{
     "x":{"field":"nm","type":"quantitative","scale":{"domain":[182.6,259.1],"nice":false,"zero":false},
          "axis":{"offset":-14,"values":[190,200,210,220,230,240,250],"labelExpr":"format(datum.value, '.1f')","labelFontSize":5,"labelColor":"#444","labelPadding":1,"tickSize":2,"tickColor":"#999","domainColor":"#c8c8c8","grid":false,"labelFlush":false,"title":"Wavelength [nm]","titleFontSize":4.5,"titleFontWeight":"normal","titleColor":"#444","titleAnchor":"end","titlePadding":1}},
     "y":{"field":"v","type":"quantitative","scale":{"domain":[-27.6,45.1],"nice":false,"zero":false},
          "axis":{"offset":-22,"values":[-20,-10,0,10,20,30,40],"labelExpr":"format(datum.value*1000, 'd')","labelFontSize":5,"labelColor":"#444","labelPadding":1,"tickSize":2,"tickColor":"#999","domainColor":"#c8c8c8","grid":false,"title":null}},
     "color":{"field":"c","type":"nominal","scale":{"domain":["g","r"],"range":["#55D255","#E0303C"]},"legend":null}}},
   {"data":{"values":[{}]},"mark":{"type":"rect","fill":"white","stroke":"#000","strokeWidth":1.5},"encoding":{"x":{"datum":174.3,"type":"quantitative"},"x2":{"datum":180.75},"y":{"datum":42.2,"type":"quantitative"},"y2":{"datum":30.6}}},
   {"data":{"values":[{}]},"mark":{"type":"text","text":"A","fontSize":28,"color":"#000"},"encoding":{"x":{"datum":177.5,"type":"quantitative"},"y":{"datum":36.4,"type":"quantitative"}}}
  ]},
 {"width":425,"height":216,"data":{"name":"ta"},"mark":{"type":"text","fontSize":27.5,"color":"#404040","align":"center"},
  "encoding":{"y":{"field":"n","type":"quantitative","scale":{"domain":[-0.97,4.666],"reverse":true,"nice":false,"zero":false},"axis":null},"text":{"field":"t"}}}
 ],"spacing":12}
],"spacing":0},
{"hconcat":[
 {"width":1,"height":1,"data":{"values":[]},"mark":{"type":"point","opacity":0},"encoding":{}},
 {"width":854,"height":329,
 "resolve":{"scale":{"color":"independent"}},
 "layer":[
   {"data":{"name":"b"},"mark":{"type":"point","filled":true,"size":70,"opacity":1},
    "encoding":{
     "x":{"field":"x","type":"quantitative","scale":{"domain":[-0.5,193],"nice":false,"zero":false},
          "axis":{"labels":false,"ticks":false,"domain":false,"grid":false,"title":null,"minExtent":181}},
     "y":{"field":"v","type":"quantitative","scale":{"domain":[0,100],"nice":false},
          "axis":{"values":[0,4,8,12,16,20,24,28,32,36,40,44,48,52,56,60,64,68,72,76,80,84,88,92,96,100],"tickCount":40,"labelExpr":"datum.value % 20 == 0 ? datum.label : ''","labelOverlap":false,"grid":true,"gridColor":"#d8d8d8","gridWidth":1,"ticks":false,"domain":false,"labelFontSize":20,"labelColor":"#595959","labelPadding":22,"title":null,"minExtent":76}},
     "color":{"field":"s","type":"nominal","scale":{"domain":["r","g"],"range":["#F01414","#00B050"]},
          "legend":{"orient":"none","legendX":-11,"legendY":-44,"direction":"horizontal","title":null,"labelExpr":"datum.label == 'r' ? 'Rendezetlen %' : 'Rendezett %'","labelFontSize":26,"labelFontWeight":"bold","labelColor":"#404040","symbolType":"circle","symbolSize":220,"symbolStrokeWidth":0,"symbolOpacity":1,"labelOffset":15,"columnPadding":34,"padding":0,"labelLimit":400}}}},
   {"data":{"values":[{}]},"mark":{"type":"rule","color":"#c8c8c8","strokeWidth":1},"encoding":{"x":{"datum":-0.5,"type":"quantitative"},"y":{"datum":0,"type":"quantitative"},"y2":{"datum":100}}},
   {"data":{"values":[{}]},"mark":{"type":"rule","color":"#000","strokeWidth":2},"encoding":{"x":{"datum":-0.5,"type":"quantitative"},"x2":{"datum":193},"y":{"datum":100,"type":"quantitative"}}},
   {"data":{"values":[{}]},"mark":{"type":"rule","color":"#000","strokeWidth":2},"encoding":{"x":{"datum":-0.5,"type":"quantitative"},"x2":{"datum":193},"y":{"datum":0,"type":"quantitative"}}},
   {"data":{"values":[{}]},"mark":{"type":"rule","color":"#000","strokeWidth":2},"encoding":{"x":{"datum":193,"type":"quantitative"},"y":{"datum":0,"type":"quantitative"},"y2":{"datum":100}}},
   {"data":{"name":"bLab"},"mark":{"type":"text","angle":270,"align":"right","baseline":"middle","fontSize":24,"fontWeight":"bold","lineBreak":"|","lineHeight":31},
    "encoding":{"x":{"field":"x","type":"quantitative"},"y":{"datum":-3.04,"type":"quantitative"},"text":{"field":"t"},
     "color":{"field":"k","type":"nominal","scale":{"domain":["E5","E5_E14D","E5_E14Q","E5_A4C_E14D_S25C","E5_R6N","P17(4S)","P17(4R)","P24(4S)","P24(4R)"],"range":["#3A9FDB","#404040","#1F9189","#1FBF6A","#E3202E","#78B152","#3B5A27","#F2C200","#F0956A"]},"legend":null}}},
   {"data":{"name":"bArrows"},"mark":{"type":"rule","color":"#333","strokeWidth":1.2},"encoding":{"x":{"field":"x","type":"quantitative"},"x2":{"field":"x2"},"y":{"field":"y","type":"quantitative"},"y2":{"field":"y2"}}},
   {"data":{"name":"bHeads"},"mark":{"type":"point","shape":"triangle-down","filled":true,"color":"#000","size":110,"opacity":1},"encoding":{"x":{"field":"x","type":"quantitative"},"y":{"field":"y","type":"quantitative"},"angle":{"field":"a","type":"quantitative","scale":{"domain":[0,360],"range":[0,360]},"legend":null}}},
   {"data":{"name":"bText"},"mark":{"type":"text","fontSize":21,"color":"#404040"},"encoding":{"x":{"field":"x","type":"quantitative"},"y":{"field":"y","type":"quantitative"},"text":{"field":"t"}}},
   {"data":{"values":[{}]},"mark":{"type":"rect","fill":"white","stroke":"#000","strokeWidth":1.5},"encoding":{"x":{"datum":-16.1,"type":"quantitative"},"x2":{"datum":-7.07},"y":{"datum":113.68,"type":"quantitative"},"y2":{"datum":103.95}}},
   {"data":{"values":[{}]},"mark":{"type":"text","text":"B","fontSize":28,"color":"#000"},"encoding":{"x":{"datum":-11.6,"type":"quantitative"},"y":{"datum":108.8,"type":"quantitative"}}}
 ]}
],"spacing":0},
{"hconcat":[
 {"width":1,"height":1,"data":{"values":[]},"mark":{"type":"point","opacity":0},"encoding":{}},
 {"hconcat":[
 {"width":497,"height":187,"view":{"stroke":"#000","strokeWidth":3},
  "layer":[
   {"data":{"values":[{}]},"mark":{"type":"rule","color":"#9a9a9a","strokeWidth":1},"encoding":{"x":{"datum":256.4,"type":"quantitative"},"x2":{"datum":333.3},"y":{"datum":0,"type":"quantitative"}}},
   {"data":{"name":"sc"},"mark":{"type":"line","interpolate":"monotone","strokeWidth":1.4,"clip":true},
    "encoding":{
     "x":{"field":"nm","type":"quantitative","scale":{"domain":[252.5,333.3],"nice":false,"zero":false},
          "axis":{"offset":-15,"values":[260,270,280,290,300,310,320,330],"labelExpr":"format(datum.value, '.1f')","labelFontSize":5,"labelColor":"#444","labelPadding":1,"tickSize":2,"tickColor":"#999","domainColor":"#c8c8c8","grid":false,"labelFlush":false,"title":"Wavelength [nm]","titleFontSize":4.5,"titleFontWeight":"normal","titleColor":"#444","titleAnchor":"end","titlePadding":1}},
     "y":{"field":"v","type":"quantitative","scale":{"domain":[-4.43,4.48],"nice":false,"zero":false},
          "axis":{"offset":-24,"values":[-3,-2,-1,0,1,2,3,4],"labelExpr":"format(datum.value*1000, 'd')","labelFontSize":5,"labelColor":"#444","labelPadding":1,"tickSize":2,"tickColor":"#999","domainColor":"#c8c8c8","grid":false,"title":null,"minExtent":78.75}},
     "color":{"field":"c","type":"nominal","scale":{"domain":["g","r"],"range":["#55D255","#E0303C"]},"legend":null}}},
   {"data":{"values":[{}]},"mark":{"type":"rect","fill":"white","stroke":"#000","strokeWidth":1.5},"encoding":{"x":{"datum":244.37,"type":"quantitative"},"x2":{"datum":251.2},"y":{"datum":4.24,"type":"quantitative"},"y2":{"datum":2.53}}},
   {"data":{"values":[{}]},"mark":{"type":"text","text":"C","fontSize":28,"color":"#000"},"encoding":{"x":{"datum":247.8,"type":"quantitative"},"y":{"datum":3.385,"type":"quantitative"}}}
  ]},
 {"width":421,"height":197,"data":{"name":"tc"},"mark":{"type":"text","fontSize":27.5,"color":"#404040","align":"center"},
  "encoding":{"y":{"field":"n","type":"quantitative","scale":{"domain":[-0.616,4.479],"reverse":true,"nice":false,"zero":false},"axis":null},"text":{"field":"t"}}}
 ],"spacing":12}
],"spacing":0},
{"hconcat":[
 {"width":1,"height":1,"data":{"values":[]},"mark":{"type":"point","opacity":0},"encoding":{}},
 {"width":860,"height":270,
 "resolve":{"scale":{"color":"independent"}},
 "layer":[
   {"data":{"name":"d"},"mark":{"type":"point","filled":true,"size":50,"opacity":1},
    "encoding":{
     "x":{"field":"x","type":"quantitative","scale":{"domain":[-0.72,310.6],"nice":false,"zero":false},
          "axis":{"labels":false,"ticks":false,"domain":false,"grid":false,"title":null}},
     "y":{"field":"v","type":"quantitative","scale":{"domain":[0,100],"nice":false},
          "axis":{"values":[0,4,8,12,16,20,24,28,32,36,40,44,48,52,56,60,64,68,72,76,80,84,88,92,96,100],"tickCount":40,"labelExpr":"datum.value % 20 == 0 ? datum.label : ''","labelOverlap":false,"grid":true,"gridColor":"#d8d8d8","gridWidth":1,"ticks":false,"domain":false,"labelFontSize":20,"labelColor":"#595959","labelPadding":20,"title":null,"minExtent":100}},
     "color":{"field":"s","type":"nominal","scale":{"domain":["r","g"],"range":["#F01414","#00B050"]},
          "legend":{"orient":"none","legendX":-35,"legendY":-59,"direction":"horizontal","title":null,"labelExpr":"datum.label == 'r' ? 'Rendezetlen %' : 'Rendezett %'","labelFontSize":26,"labelFontWeight":"bold","labelColor":"#404040","symbolType":"circle","symbolSize":220,"symbolStrokeWidth":0,"symbolOpacity":1,"labelOffset":14,"columnPadding":25,"padding":0,"labelLimit":400}}}},
   {"data":{"values":[{}]},"mark":{"type":"rule","color":"#c8c8c8","strokeWidth":1},"encoding":{"x":{"datum":-0.72,"type":"quantitative"},"y":{"datum":0,"type":"quantitative"},"y2":{"datum":100}}},
   {"data":{"values":[{}]},"mark":{"type":"rule","color":"#000","strokeWidth":2},"encoding":{"x":{"datum":-0.72,"type":"quantitative"},"x2":{"datum":310.6},"y":{"datum":100,"type":"quantitative"}}},
   {"data":{"values":[{}]},"mark":{"type":"rule","color":"#000","strokeWidth":2},"encoding":{"x":{"datum":-0.72,"type":"quantitative"},"x2":{"datum":310.6},"y":{"datum":0,"type":"quantitative"}}},
   {"data":{"values":[{}]},"mark":{"type":"rule","color":"#444","strokeWidth":2},"encoding":{"x":{"datum":310.6,"type":"quantitative"},"y":{"datum":0,"type":"quantitative"},"y2":{"datum":100}}},
   {"data":{"name":"dLab"},"mark":{"type":"text","angle":270,"align":"right","baseline":"middle","fontSize":24,"fontWeight":"bold","lineBreak":"|","lineHeight":31},
    "encoding":{"x":{"field":"x","type":"quantitative"},"y":{"datum":-2.96,"type":"quantitative"},"text":{"field":"t"},
     "color":{"field":"k","type":"nominal","scale":{"domain":["E5","E5_E14D","E5_E14Q","E5_R6N","P17(4S)","P17(4R)","P24(4S)","P24(4R)"],"range":["#3A9FDB","#404040","#1F9189","#E3202E","#78B152","#3B5A27","#F2C200","#F0956A"]},"legend":null}}},
   {"data":{"name":"dArrows"},"mark":{"type":"rule","color":"#333","strokeWidth":1.2},"encoding":{"x":{"field":"x","type":"quantitative"},"x2":{"field":"x2"},"y":{"field":"y","type":"quantitative"},"y2":{"field":"y2"}}},
   {"data":{"name":"dHeads"},"mark":{"type":"point","shape":"triangle-down","filled":true,"color":"#000","size":110,"opacity":1},"encoding":{"x":{"field":"x","type":"quantitative"},"y":{"field":"y","type":"quantitative"},"angle":{"field":"a","type":"quantitative","scale":{"domain":[0,360],"range":[0,360]},"legend":null}}},
   {"data":{"name":"dText"},"mark":{"type":"text","fontSize":21,"color":"#404040"},"encoding":{"x":{"field":"x","type":"quantitative"},"y":{"field":"y","type":"quantitative"},"text":{"field":"t"}}},
   {"data":{"values":[{}]},"mark":{"type":"rect","fill":"white","stroke":"#000","strokeWidth":1.5},"encoding":{"x":{"datum":-35.48,"type":"quantitative"},"x2":{"datum":-20.28},"y":{"datum":124.07,"type":"quantitative"},"y2":{"datum":111.11}}},
   {"data":{"values":[{}]},"mark":{"type":"text","text":"D","fontSize":28,"color":"#000"},"encoding":{"x":{"datum":-27.88,"type":"quantitative"},"y":{"datum":117.6,"type":"quantitative"}}}
 ]}
],"spacing":0}
]
}
